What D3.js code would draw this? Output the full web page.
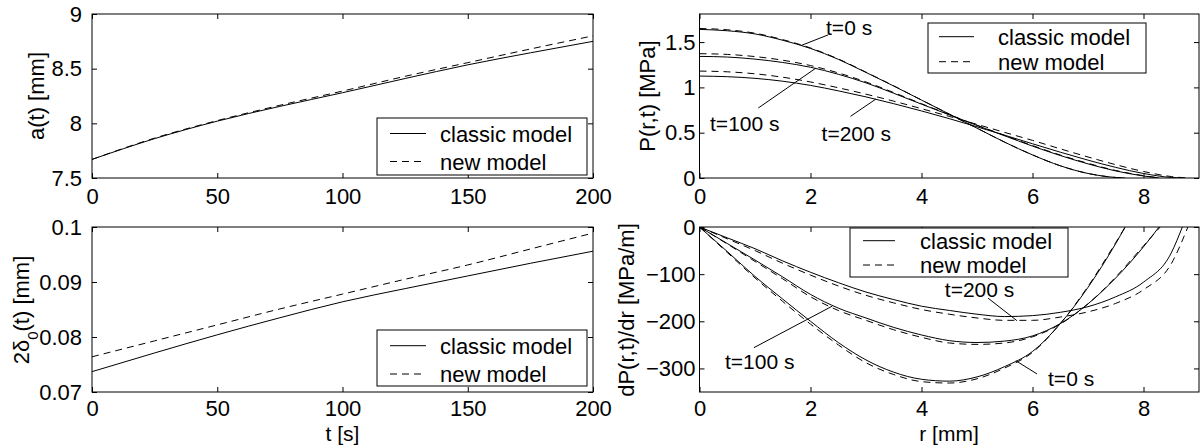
<!DOCTYPE html>
<html>
<head>
<meta charset="utf-8">
<script src="https://cdn.jsdelivr.net/npm/d3@7"></script>
<style>
  body { margin: 0; background: #fff; }
  svg { display: block; font-family: "Liberation Sans", Arial, Helvetica, sans-serif; }
</style>
</head>
<body>
<div id="chart"></div>
<script>
// left column: time series
const tSec = [0, 25, 50, 75, 100, 125, 150, 175, 200];
const aClassic = [7.67, 7.86, 8.02, 8.155, 8.28, 8.41, 8.535, 8.645, 8.75];
const aNew = [7.67, 7.865, 8.025, 8.165, 8.295, 8.43, 8.555, 8.68, 8.80];
const deltaClassic = [0.0737, 0.0771, 0.0804, 0.0835, 0.0864, 0.0888, 0.0911, 0.0934, 0.0956];
const deltaNew = [0.0764, 0.0793, 0.0822, 0.0851, 0.0878, 0.0905, 0.0931, 0.0960, 0.0989];

// right column: radial profiles at t = 0, 100, 200 s
const rGrid = [0, 0.5, 1, 1.5, 2, 2.5, 3, 3.5, 4, 4.5, 5, 5.5, 6, 6.5, 7, 7.5, 8, 8.5];
const rEndClassic = [7.67, 8.28, 8.70];
const rEndNew = [7.67, 8.30, 8.80];

const pClassic0 = [1.64, 1.625, 1.59, 1.52, 1.43, 1.31, 1.165, 1.015, 0.86, 0.705, 0.55, 0.395, 0.255, 0.135, 0.05, 0.006];
const pNew0 = [1.65, 1.636, 1.598, 1.527, 1.435, 1.314, 1.168, 1.017, 0.861, 0.705, 0.55, 0.395, 0.255, 0.135, 0.05, 0.006];
const pClassic100 = [1.342, 1.335, 1.312, 1.275, 1.222, 1.145, 1.05, 0.935, 0.815, 0.697, 0.58, 0.465, 0.352, 0.248, 0.156, 0.078, 0.022];
const pNew100 = [1.372, 1.364, 1.34, 1.30, 1.241, 1.16, 1.06, 0.943, 0.82, 0.70, 0.583, 0.47, 0.358, 0.254, 0.162, 0.083, 0.026];
const pClassic200 = [1.125, 1.118, 1.10, 1.068, 1.022, 0.962, 0.895, 0.82, 0.74, 0.655, 0.565, 0.472, 0.378, 0.285, 0.197, 0.117, 0.05, 0.006];
const pNew200 = [1.18, 1.172, 1.15, 1.112, 1.06, 0.996, 0.925, 0.848, 0.765, 0.68, 0.592, 0.503, 0.415, 0.322, 0.232, 0.147, 0.072, 0.016];

const dClassic0 = [0, -52, -105, -153, -200, -245, -282, -308, -323, -327, -318, -296, -264, -205, -128, -35];
const dNew0 = [0, -54, -108, -158, -206, -250, -288, -313, -328, -331, -322, -299, -266, -205, -126, -33];
const dClassic100 = [0, -35, -70, -106, -143, -172, -193, -213, -229, -241, -245, -242, -231, -205, -163, -108, -42];
const dNew100 = [0, -36, -73, -110, -148, -177, -198, -218, -234, -246, -249, -246, -233, -206, -163, -106, -40];
const dClassic200 = [0, -23, -46, -72, -96, -118, -138, -154, -168, -177, -185, -190, -188, -181, -169, -148, -117, -55];
const dNew200 = [0, -25, -50, -77, -102, -125, -145, -161, -175, -185, -193, -198, -198, -191, -180, -162, -133, -78];

// ticks
const tTicks = [0, 50, 100, 150, 200];
const aTicks = [7.5, 8, 8.5, 9];
const deltaTicks = [0.07, 0.08, 0.09, 0.1];
const rTicks = [0, 2, 4, 6, 8];
const pTicks = [0, 0.5, 1, 1.5];
const dTicks = [0, -100, -200, -300];

// annotations (data units)
const pLabels = ["t=0 s", "t=100 s", "t=200 s"];
const pLabelAt = [[2.28, 1.58], [0.19, 0.522], [2.2, 0.412]];
const pPointers = [[[2.32, 1.58], [1.83, 1.462]], [[1.06, 0.773], [2.10, 1.214]], [[2.72, 0.68], [3.18, 0.872]]];
const dLabels = ["t=200 s", "t=100 s", "t=0 s"];
const dLabelAt = [[4.42, -149], [0.46, -301], [6.28, -337]];
const dPointers = [[[5.2, -151], [5.72, -198.7]], [[0.98, -256], [2.39, -168]], [[6.08, -311.6], [5.70, -283.7]]];

const W = 1200, H = 445;
const svg = d3.select("#chart").append("svg").attr("width", W).attr("height", H);
svg.append("rect").attr("width", W).attr("height", H).attr("fill", "#fff");

const fmt = d => d < 0 ? "\u2212" + Math.abs(d) : String(d);
const DASH = "7,5";

function panel(id, x0, x1, y0, y1, xDom, yDom, xTicks, yTicks, xPad, yPad) {
  const x = d3.scaleLinear().domain(xDom).range([x0, x1]);
  const y = d3.scaleLinear().domain(yDom).range([y1, y0]);
  const g = svg.append("g");
  g.append("clipPath").attr("id", id).append("rect")
    .attr("x", x0).attr("y", y0).attr("width", x1 - x0).attr("height", y1 - y0);

  const axes = g.append("g");
  axes.append("g").attr("transform", `translate(0,${y1})`)
    .call(d3.axisBottom(x).tickValues(xTicks).tickSize(-5).tickPadding(xPad).tickFormat(fmt));
  axes.append("g").attr("transform", `translate(0,${y0})`)
    .call(d3.axisTop(x).tickValues(xTicks).tickSize(-5).tickFormat(""));
  axes.append("g").attr("transform", `translate(${x0},0)`)
    .call(d3.axisLeft(y).tickValues(yTicks).tickSize(-5).tickPadding(yPad).tickFormat(fmt));
  axes.append("g").attr("transform", `translate(${x1},0)`)
    .call(d3.axisRight(y).tickValues(yTicks).tickSize(-5).tickFormat(""));
  axes.selectAll(".domain").remove();
  axes.selectAll("g").attr("font-family", null).attr("font-size", 22);
  axes.selectAll(".tick line").attr("stroke", "#000");
  axes.selectAll(".tick text").attr("fill", "#000");

  const plot = g.append("g").attr("clip-path", `url(#${id})`);
  g.append("rect").attr("x", x0).attr("y", y0).attr("width", x1 - x0).attr("height", y1 - y0)
    .attr("fill", "none").attr("stroke", "#000").attr("stroke-width", 1);
  return { x, y, g, plot };
}

function drawLine(p, pts, dashed) {
  const line = d3.line().x(d => p.x(d[0])).y(d => p.y(d[1])).curve(d3.curveMonotoneX);
  p.plot.append("path").attr("d", line(pts)).attr("fill", "none")
    .attr("stroke", "#000").attr("stroke-width", 1)
    .attr("stroke-dasharray", dashed ? DASH : null);
}

function legend(g, bx, by, bw, bh, rows, lx0, lx1, tx) {
  const lg = g.append("g");
  lg.append("rect").attr("x", bx).attr("y", by).attr("width", bw).attr("height", bh)
    .attr("fill", "#fff").attr("stroke", "#000").attr("stroke-width", 1);
  ["classic model", "new model"].forEach((name, i) => {
    const yy = by + rows[i];
    lg.append("line").attr("x1", bx + lx0).attr("x2", bx + lx1).attr("y1", yy).attr("y2", yy)
      .attr("stroke", "#000").attr("stroke-width", 1).attr("stroke-dasharray", i ? DASH : null);
    lg.append("text").attr("x", bx + tx).attr("y", yy + 8).attr("font-size", 22).text(name);
  });
}

function yLabel(bx, cy, parts) {
  const t = svg.append("text").attr("transform", `translate(${bx},${cy}) rotate(-90)`)
    .attr("text-anchor", "middle").attr("font-size", 22);
  parts.forEach(pt => {
    const s = t.append("tspan").text(pt.text);
    if (pt.sub) s.attr("font-size", 15).attr("dy", 9);
    if (pt.up) s.attr("dy", -9);
  });
}

function xLabel(cx, text) {
  svg.append("text").attr("x", cx).attr("y", 440.5).attr("text-anchor", "middle")
    .attr("font-size", 21).text(text);
}

const zip = (xs, ys) => ys.map((v, i) => [xs[i], v]);
const profile = (vals, rEnd) => zip(rGrid, vals).concat([[rEnd, 0]]);

// ---- top-left: a(t)
const pa = panel("c1", 92, 593, 14, 178, [0, 200], [7.5, 9], tTicks, aTicks, 10, 10);
drawLine(pa, zip(tSec, aClassic), false);
drawLine(pa, zip(tSec, aNew), true);
legend(pa.g, 377, 118, 210, 57, [15.5, 43.5], 13, 49, 63);
yLabel(44, 96, [{ text: "a(t) [mm]" }]);

// ---- bottom-left: 2 delta0(t)
const pd = panel("c2", 92, 593, 227, 392, [0, 200], [0.07, 0.1], tTicks, deltaTicks, 8, 10);
drawLine(pd, zip(tSec, deltaClassic), false);
drawLine(pd, zip(tSec, deltaNew), true);
legend(pd.g, 377, 330, 210, 56, [15.7, 44], 13, 49, 63);
yLabel(29, 310, [{ text: "2\u03b4" }, { text: "0", sub: true }, { text: "(t) [mm]", up: true }]);
xLabel(342.5, "t [s]");

// ---- top-right: P(r,t)
const pp = panel("c3", 699.5, 1199, 14, 178, [0, 9], [0, 1.81], rTicks, pTicks, 10, 4);
[[pClassic0, pNew0], [pClassic100, pNew100], [pClassic200, pNew200]].forEach((pair, i) => {
  drawLine(pp, profile(pair[1], rEndNew[i]), true);
  drawLine(pp, profile(pair[0], rEndClassic[i]), false);
});
pPointers.forEach(seg => {
  pp.g.append("line").attr("x1", pp.x(seg[0][0])).attr("y1", pp.y(seg[0][1]))
    .attr("x2", pp.x(seg[1][0])).attr("y2", pp.y(seg[1][1])).attr("stroke", "#000").attr("stroke-width", 1);
});
pLabels.forEach((s, i) => {
  pp.g.append("text").attr("x", pp.x(pLabelAt[i][0])).attr("y", pp.y(pLabelAt[i][1]))
    .attr("font-size", 21).text(s);
});
legend(pp.g, 928, 23, 218, 50, [13.7, 38.7], 11, 46, 70);
yLabel(655, 96, [{ text: "P(r,t) [MPa]" }]);

// ---- bottom-right: dP/dr
const pq = panel("c4", 699.5, 1199, 227, 392, [0, 9], [-350, 0], rTicks, dTicks, 8, 4);
[[dClassic0, dNew0], [dClassic100, dNew100], [dClassic200, dNew200]].forEach((pair, i) => {
  drawLine(pq, profile(pair[1], rEndNew[i]), true);
  drawLine(pq, profile(pair[0], rEndClassic[i]), false);
});
dPointers.forEach(seg => {
  pq.g.append("line").attr("x1", pq.x(seg[0][0])).attr("y1", pq.y(seg[0][1]))
    .attr("x2", pq.x(seg[1][0])).attr("y2", pq.y(seg[1][1])).attr("stroke", "#000").attr("stroke-width", 1);
});
dLabels.forEach((s, i) => {
  pq.g.append("text").attr("x", pq.x(dLabelAt[i][0])).attr("y", pq.y(dLabelAt[i][1]))
    .attr("font-size", 21).text(s);
});
legend(pq.g, 850, 228, 218, 49, [12.7, 37], 13, 45, 70);
yLabel(634, 310, [{ text: "dP(r,t)/dr [MPa/m]" }]);
xLabel(949, "r [mm]");
</script>
</body>
</html>
